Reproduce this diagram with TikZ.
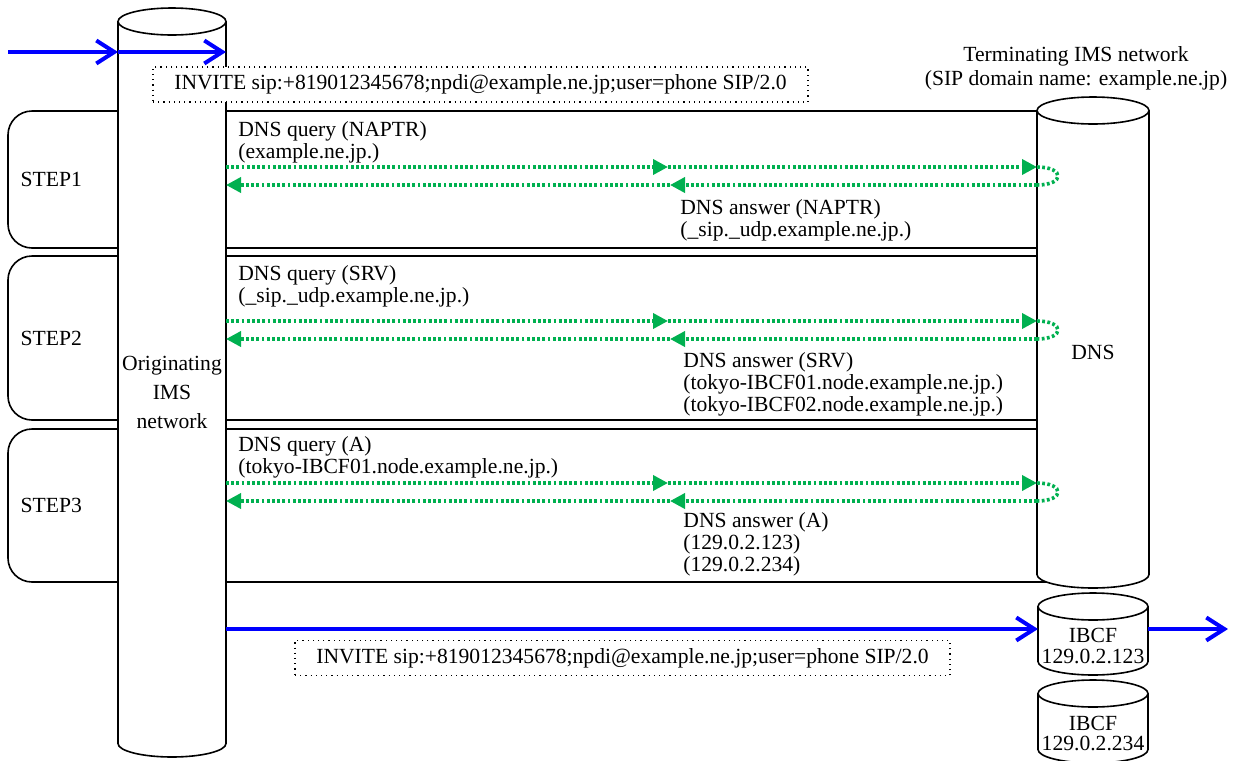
\documentclass[tikz,border=0pt]{standalone}
\usepackage{fontspec}
\setmainfont{Liberation Serif}
\usetikzlibrary{arrows.meta, positioning, calc}
\definecolor{dnsGreen}{HTML}{00B050}
\definecolor{sipBlue}{HTML}{0000FF}

% cylinder outline around a (blank) node: #1 node name, #2 x radius
\newcommand{\netcyl}[2]{%
  \filldraw[cylline] ([yshift=-6.75pt]#1.north west) -- ([yshift=6.75pt]#1.south west)
    arc[start angle=180, end angle=360, x radius=#2, y radius=6.75pt]
    -- ([yshift=-6.75pt]#1.north east)
    arc[start angle=0, end angle=180, x radius=#2, y radius=6.75pt] -- cycle;
  \draw[cylline] ([yshift=-6.75pt]#1.north west)
    arc[start angle=180, end angle=360, x radius=#2, y radius=6.75pt];
}

\begin{document}
\begin{tikzpicture}[x=0.5pt, y=-0.5pt, every node/.style={font=\fontsize{10.8}{11}\selectfont},
  cylbox/.style={inner sep=0pt, outer sep=0pt},
  cylline/.style={draw=black, fill=white, line width=0.8pt},
  cyltext/.style={align=center, inner sep=0pt},
  stepbox/.style={draw, line width=0.8pt, rounded corners=12pt, minimum width=542.5pt},
  steplabel/.style={anchor=west, inner sep=0pt},
  msgbox/.style={draw, dotted, line width=0.6pt, fill=white, minimum width=327.5pt, minimum height=17.5pt, inner sep=0pt},
  sipflow/.style={draw=sipBlue, line width=2pt, -{Straight Barb[length=9pt, width=11.5pt]}},
  dnsmsg/.style={draw=dnsGreen, line width=1.8pt, dash pattern=on 1.4pt off 1.2pt, -{Triangle[length=7.5pt, width=7.5pt]}},
  dnsloop/.style={draw=dnsGreen, line width=1.8pt, dash pattern=on 1.4pt off 1.2pt},
  msgtext/.style={anchor=north west, align=left, inner sep=0pt}]

\useasboundingbox (0,0) rectangle (1233,761);

% step frames first, the cylinders hide their right ends
\node[stepbox, minimum height=68.5pt] (step1) at (550.5,179.5) {};
\node[stepbox, minimum height=82pt] (step2) at (550.5,338) {};
\node[stepbox, minimum height=76.5pt] (step3) at (550.5,505.5) {};
\node[steplabel] (step1lbl) at ([xshift=6.5pt]step1.west) {STEP1};
\node[steplabel] (step2lbl) at ([xshift=6.5pt]step2.west) {STEP2};
\node[steplabel] (step3lbl) at ([xshift=6.5pt]step3.west) {STEP3};

% network elements
\node[cylbox, minimum width=54pt, minimum height=374.5pt] (orig) at (172,382.5) {};
\node[cylbox, minimum width=56pt, minimum height=245.5pt] (dns) at (1093,342.5) {};
\node[cylbox, minimum width=55pt, minimum height=41pt] (ibcf1) at (1093,634) {};
\node[cylbox, minimum width=55pt, minimum height=41.5pt] (ibcf2) at (1093,721.5) {};
\netcyl{orig}{27pt}
\netcyl{dns}{28pt}
\netcyl{ibcf1}{27.5pt}
\netcyl{ibcf2}{27.5pt}
\node[cyltext, font=\fontsize{10.8}{14.5}\selectfont] (origlbl) at ([yshift=-4.75pt]orig.center) {Originating\\IMS\\network};
\node[cyltext] (dnslbl) at ([yshift=-4.75pt]dns.center) {DNS};
\node[cyltext, font=\fontsize{10.8}{10.25}\selectfont] (ibcf1lbl) at ([yshift=-6pt]ibcf1.center) {IBCF\\129.0.2.123};
\node[cyltext, font=\fontsize{10.8}{10.25}\selectfont] (ibcf2lbl) at ([yshift=-6pt]ibcf2.center) {IBCF\\129.0.2.234};
\node[align=center, font=\fontsize{10.8}{12}\selectfont] (term) at (1076,68) {Terminating IMS network\\(SIP domain name: example.ne.jp)};

% INVITE in and out
\node[msgbox] (inv1) at (480.5,84.5) {INVITE sip:+819012345678;npdi@example.ne.jp;user=phone SIP/2.0};
\node[msgbox] (inv2) at (622.5,658) {INVITE sip:+819012345678;npdi@example.ne.jp;user=phone SIP/2.0};
\coordinate (src) at (8,52);
\coordinate (sink) at (1228,629);
\draw[sipflow] (src) -- (orig.west |- src);
\draw[sipflow] (orig.west |- src) -- (orig.east |- src);
\draw[sipflow] (orig.east |- sink) -- (ibcf1.west |- sink);
\draw[sipflow] (ibcf1.east |- sink) -- (sink);

% DNS query / answer pairs
\foreach \q/\a in {167/185, 321/339, 483/501}{
  \coordinate (qmid) at (668,\q);
  \coordinate (amid) at (670,\a);
  \draw[dnsmsg] (orig.east |- qmid) -- (qmid);
  \draw[dnsmsg] (qmid) -- (dns.west |- qmid);
  \draw[dnsloop] (dns.west |- qmid) .. controls +(28,0) and +(28,0) .. (dns.west |- amid);
  \draw[dnsmsg] (dns.west |- amid) -- (amid);
  \draw[dnsmsg] (amid) -- (orig.east |- amid);
}

\node[msgtext] (q1) at (238,121) {DNS query (NAPTR)\\(example.ne.jp.)};
\node[msgtext] (a1) at (680,199) {DNS answer (NAPTR)\\(\_sip.\_udp.example.ne.jp.)};
\node[msgtext] (q2) at (238,265) {DNS query (SRV)\\(\_sip.\_udp.example.ne.jp.)};
\node[msgtext] (a2) at (683,352) {DNS answer (SRV)\\(tokyo-IBCF01.node.example.ne.jp.)\\(tokyo-IBCF02.node.example.ne.jp.)};
\node[msgtext] (q3) at (238,436) {DNS query (A)\\(tokyo-IBCF01.node.example.ne.jp.)};
\node[msgtext] (a3) at (683,512) {DNS answer (A)\\(129.0.2.123)\\(129.0.2.234)};
\end{tikzpicture}
\end{document}
